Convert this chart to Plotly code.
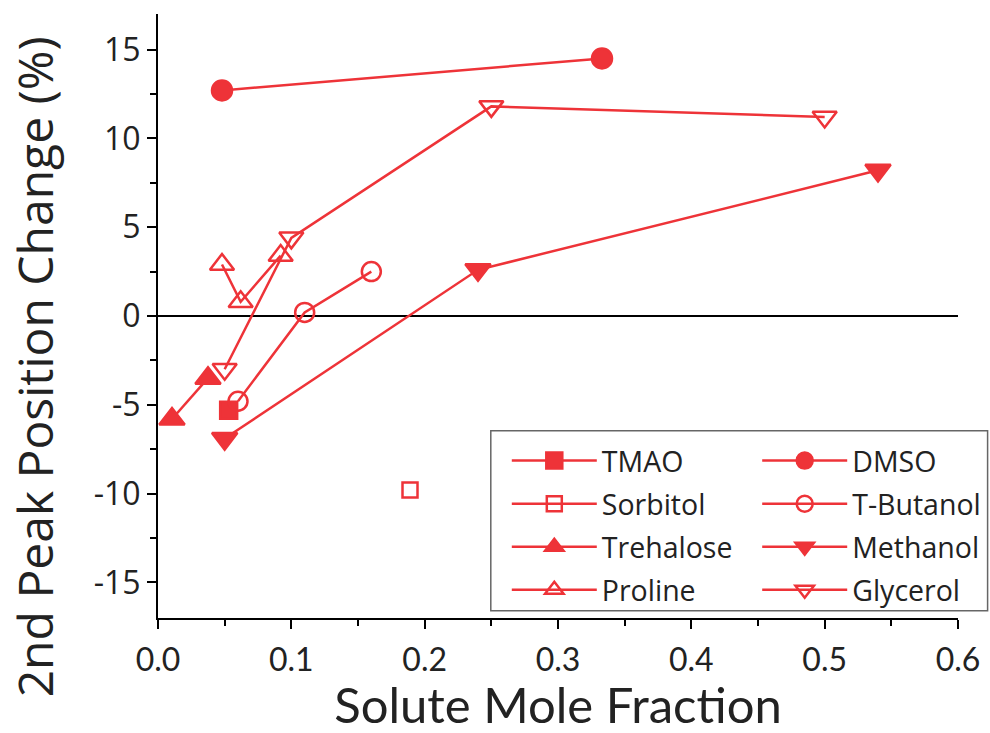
import plotly.graph_objects as go

RED = "#EE3338"

# data
tmao_x = [0.053]
tmao_y = [-5.3]
dmso_x = [0.048, 0.333]
dmso_y = [12.7, 14.5]
sorbitol_x = [0.189]
sorbitol_y = [-9.8]
tbutanol_x = [0.060, 0.110, 0.160]
tbutanol_y = [-4.8, 0.2, 2.5]
trehalose_x = [0.0105, 0.0375]
trehalose_y = [-5.8, -3.5]
methanol_x = [0.050, 0.240, 0.540]
methanol_y = [-6.9, 2.6, 8.2]
proline_x = [0.048, 0.062, 0.092]
proline_y = [2.9, 0.8, 3.4]
glycerol_x = [0.050, 0.100, 0.250, 0.500]
glycerol_y = [-3.0, 4.4, 11.8, 11.2]

x_ticks = [0, 0.1, 0.2, 0.3, 0.4, 0.5, 0.6]
y_ticks = [-15, -10, -5, 0, 5, 10, 15]

# (name, x, y, symbol, size, legend column)
series = [
    ("TMAO", tmao_x, tmao_y, "square", 17, "legend"),
    ("Sorbitol", sorbitol_x, sorbitol_y, "square-open", 15, "legend"),
    ("Trehalose", trehalose_x, trehalose_y, "triangle-up", 22, "legend"),
    ("Proline", proline_x, proline_y, "triangle-up-open", 21, "legend"),
    ("DMSO", dmso_x, dmso_y, "circle", 20, "legend2"),
    ("T-Butanol", tbutanol_x, tbutanol_y, "circle-open", 19, "legend2"),
    ("Methanol", methanol_x, methanol_y, "triangle-down", 22, "legend2"),
    ("Glycerol", glycerol_x, glycerol_y, "triangle-down-open", 21, "legend2"),
]

fig = go.Figure()

for name, xs, ys, sym, size, leg in series:
    fig.add_trace(go.Scatter(
        x=xs, y=ys, name=name, legend=leg, legendgroup=name,
        mode="lines+markers",
        line=dict(color=RED, width=2.5),
        marker=dict(symbol=sym, size=size, color=RED,
                    line=dict(color=RED, width=2.5)),
        cliponaxis=False,
    ))

leg_common = dict(
    orientation="v", yanchor="top", xanchor="left",
    bgcolor="rgba(0,0,0,0)", borderwidth=0,
    font=dict(size=28.5, family="Open Sans", color="#222"),
    tracegroupgap=3, itemwidth=85,
)

fig.update_layout(
    width=990, height=733,
    margin=dict(l=158, r=32, t=14, b=115, autoexpand=False),
    plot_bgcolor="white",
    paper_bgcolor="white",
    font=dict(family="Open Sans", color="#222"),
    legend=dict(x=0.436, y=0.302, **leg_common),
    legend2=dict(x=0.749, y=0.302, **leg_common),
    shapes=[dict(type="rect", xref="paper", yref="paper",
                 x0=0.416, x1=1.037, y0=0.012, y1=0.31,
                 line=dict(color="#666", width=1.5))],
    annotations=[dict(text="2nd Peak Position Change (%)", textangle=-90,
                      xref="paper", yref="paper", x=-0.155, y=0.415,
                      xanchor="center", yanchor="middle", showarrow=False,
                      font=dict(size=48, family="Open Sans", color="#222"))],
    xaxis=dict(
        range=[0, 0.6],
        tickvals=x_ticks,
        ticktext=[f"{v:.1f}" for v in x_ticks],
        ticks="outside", ticklen=9, tickwidth=2, tickcolor="black",
        minor=dict(dtick=0.05, ticks="outside", ticklen=6, tickwidth=2,
                   tickcolor="black", showgrid=False),
        showline=True, linecolor="black", linewidth=2,
        showgrid=False, zeroline=False, automargin=False,
        ticklabelstandoff=4,
        tickfont=dict(size=32, family="Lato", color="#222"),
        title=dict(text="Solute Mole Fraction",
                   font=dict(size=49, family="Lato", color="#222"),
                   standoff=14),
    ),
    yaxis=dict(
        range=[-17, 17],
        tickvals=y_ticks,
        ticktext=[str(v) for v in y_ticks],
        ticks="outside", ticklen=9, tickwidth=2, tickcolor="black",
        minor=dict(dtick=2.5, ticks="outside", ticklen=6, tickwidth=2,
                   tickcolor="black", showgrid=False),
        showline=True, linecolor="black", linewidth=2,
        showgrid=False, automargin=False,
        zeroline=True, zerolinecolor="black", zerolinewidth=2,
        tickfont=dict(size=32, family="Open Sans", color="#222"),
    ),
)

fig.write_html("out.html", config={"displayModeBar": False},
               post_script="document.body.style.margin='0';")
